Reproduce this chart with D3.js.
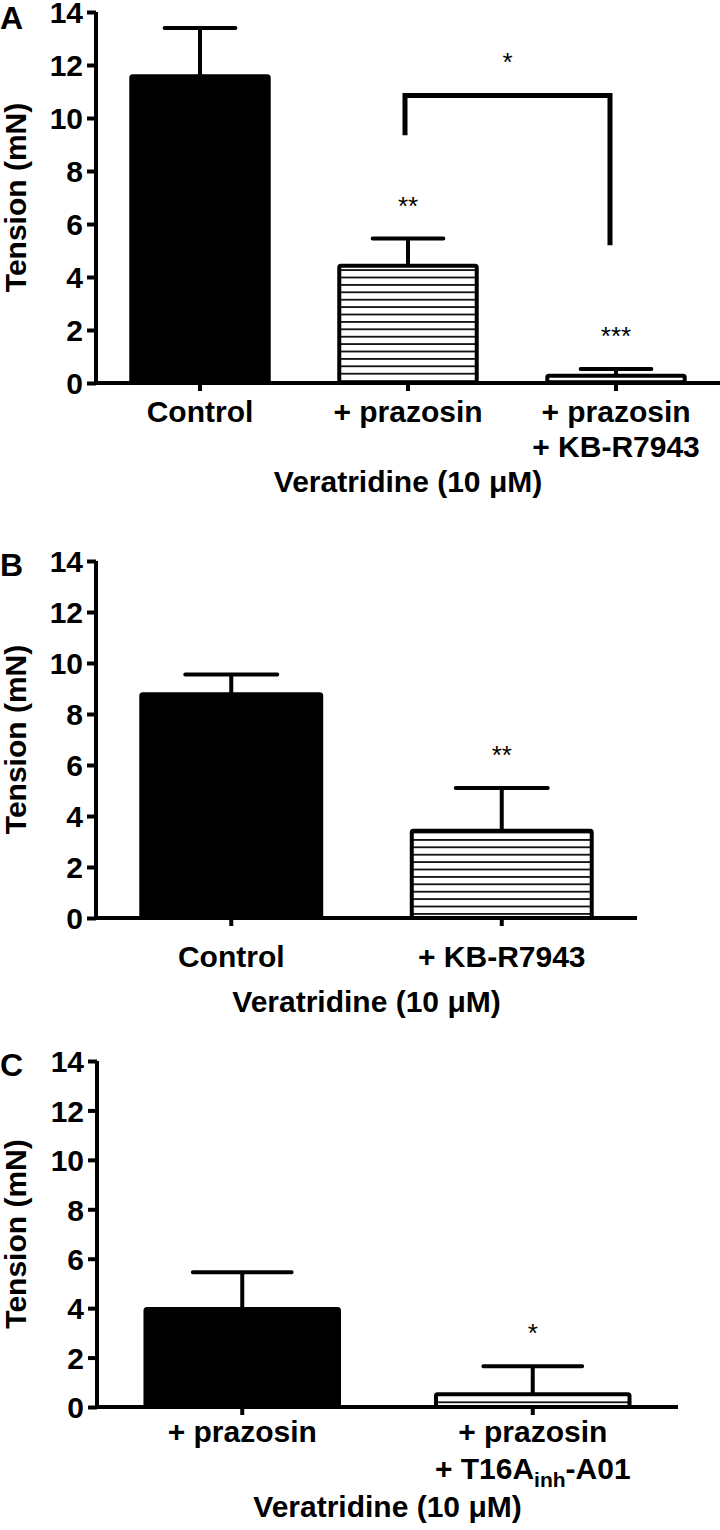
<!DOCTYPE html>
<html>
<head>
<meta charset="utf-8">
<script src="https://d3js.org/d3.v7.min.js"></script>
<style>
    body { margin: 0; background: #fff; }
    svg { display: block; }
    .lbl { font-family: "Liberation Sans", Arial, sans-serif; font-weight: bold; fill: #000; }
    .star { font-family: "Liberation Sans", Arial, sans-serif; font-size: 26px; fill: #000; }
</style>
</head>
<body>
<script>
// ---- data ----
var ticks = [0, 2, 4, 6, 8, 10, 12, 14];

var catsA = [["Control"], ["+ prazosin"], ["+ prazosin", "+ KB-R7943"]];
var meanA = [11.65, 4.5, 0.35];
var semA = [1.75, 0.95, 0.18];
var fillA = ["solid", "hatch", "hatch"];
var sigA = ["", "**", "***"];
var bracketA = {from: 1, to: 2, top: 10.85, leftEnd: 9.35, rightEnd: 5.2, label: "*"};

var catsB = [["Control"], ["+ KB-R7943"]];
var meanB = [8.85, 3.5];
var semB = [0.7, 1.6];
var fillB = ["solid", "hatch"];
var sigB = ["", "**"];

var catsC = [["+ prazosin"], ["+ prazosin", "+ T16A|inh|-A01"]];
var meanC = [4.05, 0.6];
var semC = [1.4, 1.05];
var fillC = ["solid", "hatch"];
var sigC = ["", "*"];

var xTitle = "Veratridine (10 \u03BCM)";
var yTitle = "Tension (mN)";

// ---- layout ----
var W = 720, H = 1530;
var svg = d3.select("body").append("svg").attr("width", W).attr("height", H);

var defs = svg.append("defs");
var pat = defs.append("pattern").attr("id", "hatch")
    .attr("patternUnits", "userSpaceOnUse").attr("width", 10).attr("height", 7.4);
pat.append("rect").attr("width", 10).attr("height", 7.4).attr("fill", "#fff");
pat.append("line").attr("x1", 0).attr("x2", 10).attr("y1", 3.7).attr("y2", 3.7)
    .attr("stroke", "#000").attr("stroke-width", 1.7);

var panels = [
    {letter: "A", letterY: 29, cats: catsA, mean: meanA, sem: semA, fill: fillA, sig: sigA,
     x0: 96, x1: 720, yTop: 12, yZero: 383, catY: 422, lineGap: 35, titleY: 492, bracket: bracketA},
    {letter: "B", letterY: 576, cats: catsB, mean: meanB, sem: semB, fill: fillB, sig: sigB,
     x0: 96, x1: 637, yTop: 561, yZero: 918, catY: 967, lineGap: 35, titleY: 1012},
    {letter: "C", letterY: 1076, cats: catsC, mean: meanC, sem: semC, fill: fillC, sig: sigC,
     x0: 97, x1: 678, yTop: 1061, yZero: 1407, catY: 1442, lineGap: 37, titleY: 1517}
];

panels.forEach(function (p) {
    var g = svg.append("g");
    var idx = p.cats.map(function (d, i) { return i; });
    var x = d3.scaleBand().domain(idx).range([p.x0, p.x1]).paddingInner(0.32).paddingOuter(0.16);
    var y = d3.scaleLinear().domain([0, 14]).range([p.yZero, p.yTop]);
    var bw = x.bandwidth();

    // error bars (drawn first, bar covers the lower part)
    g.selectAll(".err").data(idx).enter().append("path")
        .attr("fill", "none").attr("stroke", "#000").attr("stroke-width", 4)
        .attr("stroke-linecap", "round")
        .attr("d", function (i) {
            var cx = x(i) + bw / 2, yt = y(p.mean[i] + p.sem[i]);
            return "M" + cx + "," + y(p.mean[i]) + "V" + yt +
                   "M" + (cx - bw / 4) + "," + yt + "H" + (cx + bw / 4);
        });

    // bars
    g.selectAll(".bar").data(idx).enter().append("rect")
        .attr("x", function (i) { return x(i) + 2; })
        .attr("width", bw - 4)
        .attr("y", function (i) { return y(p.mean[i]) + 2; })
        .attr("height", function (i) { return Math.max(0, y(0) - y(p.mean[i]) - 2); })
        .attr("rx", 1.5)
        .attr("fill", function (i) { return p.fill[i] === "solid" ? "#000" : "url(#hatch)"; })
        .attr("stroke", "#000").attr("stroke-width", 4);

    // y axis
    var ya = g.append("g").attr("transform", "translate(" + p.x0 + ",0)")
        .call(d3.axisLeft(y).tickValues(ticks).tickSize(9).tickPadding(4).tickFormat(d3.format("d")));
    ya.select(".domain").attr("d", "M0," + y(14) + "V" + y(0)).attr("stroke-width", 4);
    ya.selectAll(".tick line").attr("stroke-width", 4);
    ya.selectAll(".tick text").attr("class", "lbl").style("font-size", "30px")
        .attr("dy", "0.36em");

    // x axis
    var xa = g.append("g").attr("transform", "translate(0," + y(0) + ")")
        .call(d3.axisBottom(x).tickSize(8).tickFormat(""));
    xa.select(".domain").attr("d", "M" + p.x0 + ",0H" + p.x1).attr("stroke-width", 4);
    xa.selectAll(".tick line").attr("stroke-width", 4);

    // category labels
    idx.forEach(function (i) {
        p.cats[i].forEach(function (line, k) {
            var t = g.append("text").attr("class", "lbl").style("font-size", "30px")
                .attr("text-anchor", "middle")
                .attr("x", x(i) + bw / 2).attr("y", p.catY + k * p.lineGap);
            var parts = line.split("|");
            parts.forEach(function (s, j) {
                var ts = t.append("tspan").text(s);
                if (j === 1) ts.style("font-size", "21px").attr("dy", 8);
                if (j === 2) ts.attr("dy", -8);
            });
        });
    });

    // significance stars
    g.selectAll(".sig").data(idx).enter().append("text").attr("class", "star")
        .attr("text-anchor", "middle")
        .attr("x", function (i) { return x(i) + bw / 2; })
        .attr("y", function (i) { return y(p.mean[i] + p.sem[i]) - 24; })
        .text(function (i) { return p.sig[i]; });

    // comparison bracket
    if (p.bracket) {
        var b = p.bracket;
        var xl = x(b.from) + bw / 2 - 3, xr = x(b.to) + bw / 2 - 6;
        g.append("path").attr("fill", "none").attr("stroke", "#000").attr("stroke-width", 5)
            .attr("d", "M" + xl + "," + y(b.leftEnd) + "V" + y(b.top) + "H" + xr + "V" + y(b.rightEnd));
        g.append("text").attr("class", "star").attr("text-anchor", "middle")
            .attr("x", (xl + xr) / 2).attr("y", y(b.top) - 24).text(b.label);
    }

    // titles
    g.append("text").attr("class", "lbl").style("font-size", "30px")
        .attr("text-anchor", "middle")
        .attr("x", (p.x0 + p.x1) / 2).attr("y", p.titleY).text(xTitle);
    g.append("text").attr("class", "lbl").style("font-size", "30px")
        .attr("text-anchor", "middle")
        .attr("transform", "translate(26," + (p.yZero + p.yTop) / 2 + ") rotate(-90)")
        .text(yTitle);
    g.append("text").attr("class", "lbl").style("font-size", "32px")
        .attr("x", 0).attr("y", p.letterY).text(p.letter);
});
</script>
</body>
</html>
